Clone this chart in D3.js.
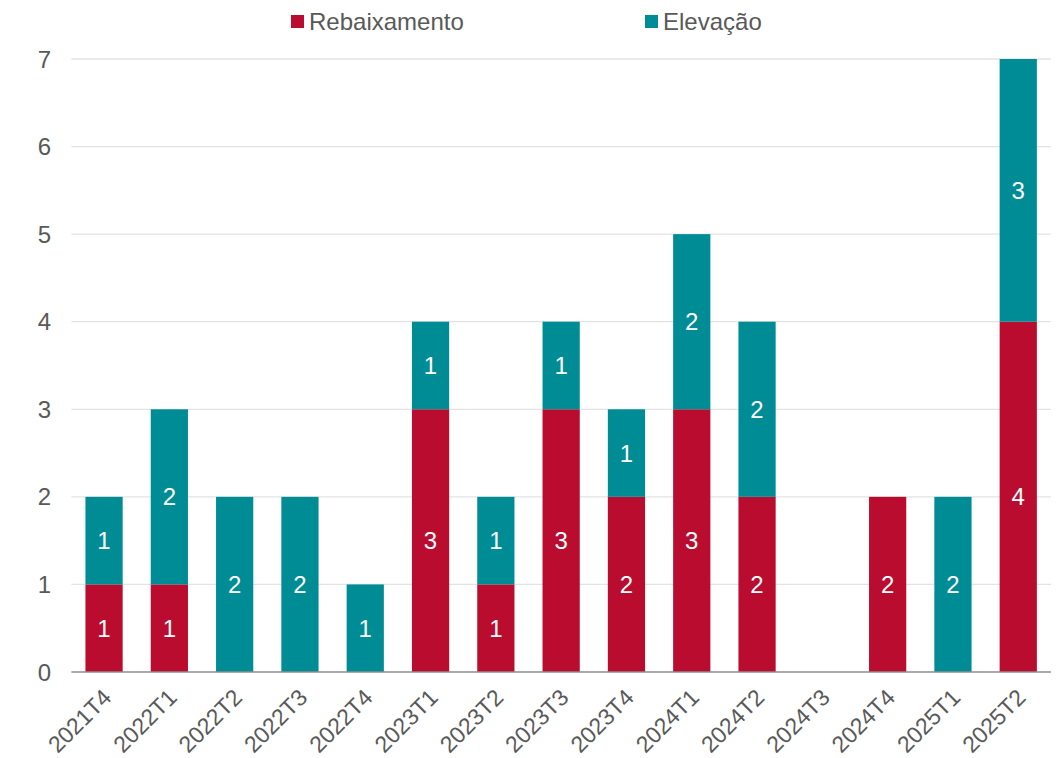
<!DOCTYPE html>
<html><head><meta charset="utf-8">
<script src="https://cdn.jsdelivr.net/npm/d3@7"></script>
<style>body{margin:0;background:#fff}svg{display:block;font-family:"Liberation Sans",Arial,sans-serif}</style>
</head><body><svg id="c" width="1056" height="758"></svg>
<script>
const categories = ["2021T4","2022T1","2022T2","2022T3","2022T4","2023T1","2023T2","2023T3","2023T4","2024T1","2024T2","2024T3","2024T4","2025T1","2025T2"];
const rebaixamento = [1,1,0,0,0,3,1,3,2,3,2,0,2,0,4];
const elevacao = [1,2,2,2,1,1,1,1,1,2,2,0,0,2,3];
const yTicks = [0,1,2,3,4,5,6,7];
const seriesNames = ["Rebaixamento","Elevação"];
const colors = ["#BA0C2F","#008C95"];

const svg = d3.select("#c");
const m = {l:71.4, r:1050.9, t:59, b:672};
const x = d3.scaleBand().domain(categories).range([m.l,m.r]).paddingInner(0.43).paddingOuter(0.215);
const y = d3.scaleLinear().domain([0,7]).range([m.b,m.t]);
const fs = 24;

// gridlines
svg.append("g").selectAll("line").data(yTicks.filter(d=>d>0)).join("line")
  .attr("x1",m.l).attr("x2",m.r).attr("y1",d=>y(d)).attr("y2",d=>y(d))
  .attr("stroke","#e3e3e3").attr("stroke-width",1.3);

const rows = categories.map((c,i)=>({cat:c, Rebaixamento:rebaixamento[i], "Elevação":elevacao[i]}));
const stacked = d3.stack().keys(seriesNames)(rows);

const g = svg.append("g");
stacked.forEach((s,si)=>{
  g.selectAll(null).data(s.filter(d=>d[1]-d[0]>0)).join("rect")
    .attr("x",d=>x(d.data.cat)).attr("width",x.bandwidth())
    .attr("y",d=>y(d[1])).attr("height",d=>y(d[0])-y(d[1]))
    .attr("fill",colors[si]);
  g.selectAll(null).data(s.filter(d=>d[1]-d[0]>0)).join("text")
    .attr("x",d=>x(d.data.cat)+x.bandwidth()/2)
    .attr("y",d=>(y(d[0])+y(d[1]))/2)
    .attr("dy","0.36em").attr("text-anchor","middle")
    .attr("fill","#fff").attr("font-size",fs)
    .text(d=>d[1]-d[0]);
});

// x axis line
svg.append("line").attr("x1",m.l).attr("x2",m.r).attr("y1",m.b).attr("y2",m.b)
  .attr("stroke","#8c8c8c").attr("stroke-width",1.3);

// y tick labels
svg.append("g").selectAll("text").data(yTicks).join("text")
  .attr("x",51).attr("y",d=>y(d)).attr("dy","0.36em").attr("text-anchor","end")
  .attr("fill","#595959").attr("font-size",fs).text(d=>d);

// x labels
svg.append("g").selectAll("text").data(categories).join("text")
  .attr("transform",d=>`translate(${x(d)+x.bandwidth()/2+3},${m.b+21}) rotate(-45)`)
  .attr("text-anchor","end").attr("dy","0.36em")
  .attr("fill","#595959").attr("font-size",23).text(d=>d);

// legend
const leg = [{name:seriesNames[0],x:291},{name:seriesNames[1],x:645}];
leg.forEach((l,i)=>{
  svg.append("rect").attr("x",l.x).attr("y",15).attr("width",13).attr("height",13).attr("fill",colors[i]);
  svg.append("text").attr("x",l.x+18).attr("y",21.5).attr("dy","0.36em")
    .attr("fill","#595959").attr("font-size",fs).text(l.name);
});
</script></body></html>
